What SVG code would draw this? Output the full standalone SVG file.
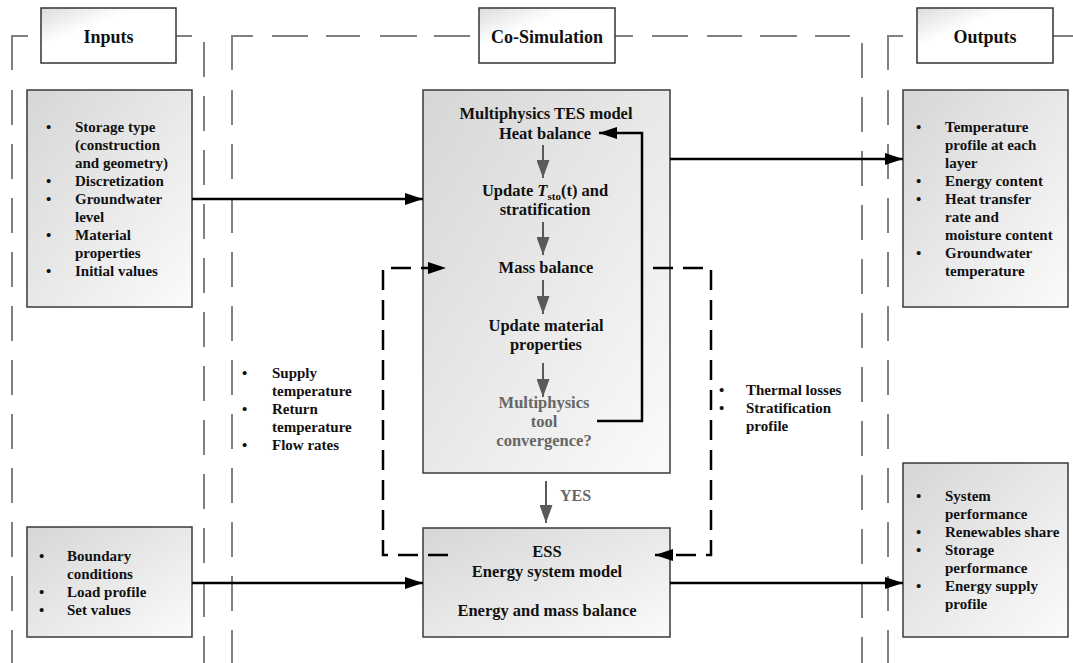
<svg xmlns="http://www.w3.org/2000/svg" width="1073" height="663" viewBox="0 0 1073 663">
  <style>
    text { font-family: "Liberation Serif", "Times New Roman", serif; font-weight: bold; fill: #111; }
    .title { font-size: 18px; }
    .item { font-size: 15px; }
    .inner { font-size: 16.5px; }
    .muted { fill: #666; }
    .frame { fill: none; stroke: #808080; stroke-width: 2; }
    .dash { stroke-dasharray: 35 19; }
    .box { fill: url(#boxFill); stroke: #3a3a3a; stroke-width: 1.5; }
    .tbox { fill: url(#titleFill); stroke: #333; stroke-width: 1.5; }
    .flow { fill: none; stroke: #000; stroke-width: 2.5; }
    .step { fill: none; stroke: #5a5a5a; stroke-width: 2; }
    .loop { fill: none; stroke: #000; stroke-width: 2.5; stroke-dasharray: 20 10; }
  </style>
  <defs>
    <linearGradient id="boxFill" x1="0" y1="0" x2="1" y2="1">
      <stop offset="0" stop-color="#d6d6d6"/>
      <stop offset="1" stop-color="#fbfbfb"/>
    </linearGradient>
    <linearGradient id="titleFill" x1="0" y1="0" x2="1" y2="1">
      <stop offset="0" stop-color="#dcdcdc"/>
      <stop offset="0.35" stop-color="#ffffff"/>
      <stop offset="1" stop-color="#ffffff"/>
    </linearGradient>
    <marker id="headBlack" markerUnits="userSpaceOnUse" markerWidth="18" markerHeight="12" refX="18" refY="6" orient="auto">
      <path d="M0,0 L18,6 L0,12 z" fill="#000"/>
    </marker>
    <marker id="headGrey" markerUnits="userSpaceOnUse" markerWidth="18" markerHeight="13" refX="18" refY="6.5" orient="auto">
      <path d="M0,0 L18,6.5 L0,13 z" fill="#5a5a5a"/>
    </marker>
  </defs>

  <!-- dashed column frames -->
  <g id="frames">
    <path class="frame" d="M12,70 V36 H28"/>
    <path class="frame dash" d="M12,90 V663"/>
    <path class="frame" d="M176,36 H192"/>
    <path class="frame dash" d="M204,42 V663"/>

    <path class="frame" d="M232,70 V36 H253"/>
    <path class="frame dash" d="M232,90 V663"/>
    <path class="frame" d="M272,36 H308 M326,36 H360 M380,36 H417 M434,36 H470 M615,36 H633 M652,36 H688 M707,36 H742 M760,36 H797 M815,36 H850"/>
    <path class="frame dash" d="M862,43 V663"/>

    <path class="frame" d="M888,70 V36 H903"/>
    <path class="frame dash" d="M888,90 V663"/>
    <path class="frame" d="M1053,36 H1073"/>
  </g>

  <!-- column titles -->
  <g id="title-inputs">
    <rect class="tbox" x="41" y="8" width="135" height="55"/>
    <text class="title" x="108.5" y="43" text-anchor="middle">Inputs</text>
  </g>
  <g id="title-cosim">
    <rect class="tbox" x="479" y="8" width="136" height="55"/>
    <text class="title" x="547" y="43" text-anchor="middle">Co-Simulation</text>
  </g>
  <g id="title-outputs">
    <rect class="tbox" x="917" y="8" width="136" height="55"/>
    <text class="title" x="985" y="43" text-anchor="middle">Outputs</text>
  </g>

  <!-- storage inputs -->
  <g id="inputs-storage">
    <rect class="box" x="27" y="90" width="165" height="217"/>
    <text class="item">
      <tspan x="46" y="132">•</tspan><tspan x="75" y="132">Storage type</tspan>
      <tspan x="75" y="150">(construction</tspan>
      <tspan x="75" y="168">and geometry)</tspan>
      <tspan x="46" y="186">•</tspan><tspan x="75" y="186">Discretization</tspan>
      <tspan x="46" y="204">•</tspan><tspan x="75" y="204">Groundwater</tspan>
      <tspan x="75" y="222">level</tspan>
      <tspan x="46" y="240">•</tspan><tspan x="75" y="240">Material</tspan>
      <tspan x="75" y="258">properties</tspan>
      <tspan x="46" y="276">•</tspan><tspan x="75" y="276">Initial values</tspan>
    </text>
  </g>

  <!-- system inputs -->
  <g id="inputs-system">
    <rect class="box" x="27" y="527" width="165" height="110"/>
    <text class="item">
      <tspan x="39" y="561">•</tspan><tspan x="67" y="561">Boundary</tspan>
      <tspan x="67" y="579">conditions</tspan>
      <tspan x="39" y="597">•</tspan><tspan x="67" y="597">Load profile</tspan>
      <tspan x="39" y="615">•</tspan><tspan x="67" y="615">Set values</tspan>
    </text>
  </g>

  <!-- multiphysics storage model -->
  <g id="tes-model">
    <rect class="box" x="423" y="90" width="247" height="383"/>
    <text class="inner" x="546" y="119" text-anchor="middle">Multiphysics TES model</text>
    <text class="inner" x="545" y="139" text-anchor="middle">Heat balance</text>
    <text class="inner" x="545" y="196" text-anchor="middle">Update <tspan font-style="italic">T</tspan><tspan font-size="11" dy="4">sto</tspan><tspan dy="-4">(t) and</tspan></text>
    <text class="inner" x="545" y="215" text-anchor="middle">stratification</text>
    <text class="inner" x="546" y="273" text-anchor="middle">Mass balance</text>
    <text class="inner" x="546" y="331" text-anchor="middle">Update material</text>
    <text class="inner" x="546" y="350" text-anchor="middle">properties</text>
    <text class="inner muted" x="544" y="408" text-anchor="middle">Multiphysics</text>
    <text class="inner muted" x="544" y="427" text-anchor="middle">tool</text>
    <text class="inner muted" x="544" y="446" text-anchor="middle">convergence?</text>
  </g>

  <!-- energy system model -->
  <g id="ess-model">
    <rect class="box" x="423" y="528" width="247" height="109"/>
    <text class="inner" x="547" y="557" text-anchor="middle">ESS</text>
    <text class="inner" x="547" y="577" text-anchor="middle">Energy system model</text>
    <text class="inner" x="547" y="616" text-anchor="middle">Energy and mass balance</text>
  </g>

  <!-- storage outputs -->
  <g id="outputs-storage">
    <rect class="box" x="903" y="90" width="165" height="217"/>
    <text class="item">
      <tspan x="916" y="132">•</tspan><tspan x="945" y="132">Temperature</tspan>
      <tspan x="945" y="150">profile at each</tspan>
      <tspan x="945" y="168">layer</tspan>
      <tspan x="916" y="186">•</tspan><tspan x="945" y="186">Energy content</tspan>
      <tspan x="916" y="204">•</tspan><tspan x="945" y="204">Heat transfer</tspan>
      <tspan x="945" y="222">rate and</tspan>
      <tspan x="945" y="240">moisture content</tspan>
      <tspan x="916" y="258">•</tspan><tspan x="945" y="258">Groundwater</tspan>
      <tspan x="945" y="276">temperature</tspan>
    </text>
  </g>

  <!-- system outputs -->
  <g id="outputs-system">
    <rect class="box" x="903" y="463" width="165" height="174"/>
    <text class="item">
      <tspan x="916" y="501">•</tspan><tspan x="945" y="501">System</tspan>
      <tspan x="945" y="519">performance</tspan>
      <tspan x="916" y="537">•</tspan><tspan x="945" y="537">Renewables share</tspan>
      <tspan x="916" y="555">•</tspan><tspan x="945" y="555">Storage</tspan>
      <tspan x="945" y="573">performance</tspan>
      <tspan x="916" y="591">•</tspan><tspan x="945" y="591">Energy supply</tspan>
      <tspan x="945" y="609">profile</tspan>
    </text>
  </g>

  <!-- exchanged variables -->
  <g id="to-storage-vars">
    <text class="item">
      <tspan x="242" y="378">•</tspan><tspan x="272" y="378">Supply</tspan>
      <tspan x="272" y="396">temperature</tspan>
      <tspan x="242" y="414">•</tspan><tspan x="272" y="414">Return</tspan>
      <tspan x="272" y="432">temperature</tspan>
      <tspan x="242" y="450">•</tspan><tspan x="272" y="450">Flow rates</tspan>
    </text>
  </g>
  <g id="to-system-vars">
    <text class="item">
      <tspan x="719" y="395">•</tspan><tspan x="746" y="395">Thermal losses</tspan>
      <tspan x="719" y="413">•</tspan><tspan x="746" y="413">Stratification</tspan>
      <tspan x="746" y="431">profile</tspan>
    </text>
  </g>

  <!-- connectors -->
  <g id="connectors">
    <path class="flow" d="M192,199 H423" marker-end="url(#headBlack)"/>
    <path class="flow" d="M670,159 H903" marker-end="url(#headBlack)"/>
    <path class="flow" d="M192,583 H423" marker-end="url(#headBlack)"/>
    <path class="flow" d="M670,583 H903" marker-end="url(#headBlack)"/>
    <path class="flow" d="M597,421 H642 V133 H599" marker-end="url(#headBlack)"/>

    <path class="step" d="M543,145 V178" marker-end="url(#headGrey)"/>
    <path class="step" d="M543,222 V255" marker-end="url(#headGrey)"/>
    <path class="step" d="M543,280 V314" marker-end="url(#headGrey)"/>
    <path class="step" d="M543,363 V397" marker-end="url(#headGrey)"/>
    <path class="step" d="M546,481 V523" marker-end="url(#headGrey)"/>
    <text x="560" y="501" font-size="16" class="muted">YES</text>

    <path class="loop" d="M448,555 H383 V268 H446" marker-end="url(#headBlack)"/>
    <path class="loop" d="M653,268 H711 V555 H655" marker-end="url(#headBlack)"/>
  </g>
</svg>
